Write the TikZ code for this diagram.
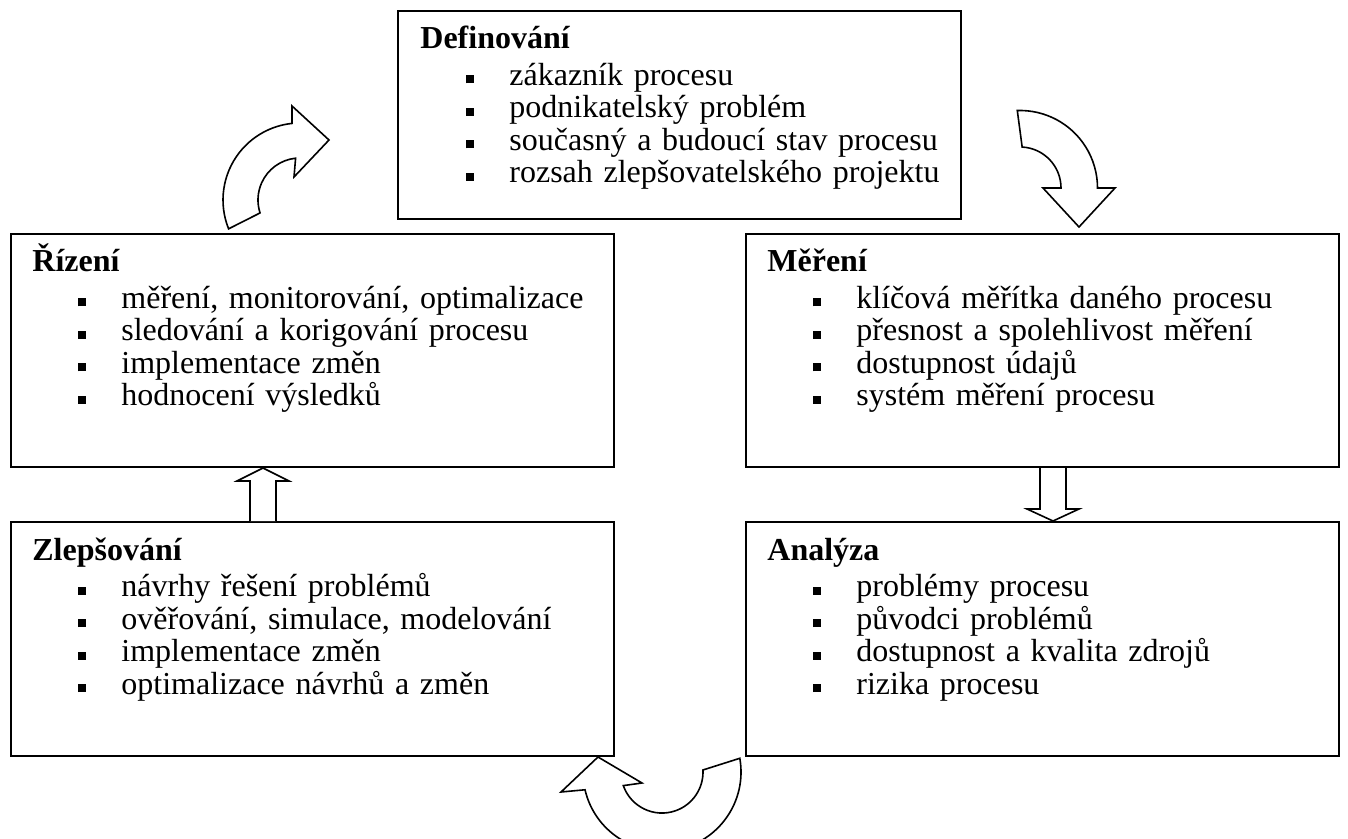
\documentclass[tikz,border=0pt]{standalone}
\usepackage{fontspec}
\setmainfont{Liberation Serif}
\usetikzlibrary{positioning,calc}

\newcommand\pbul{\hspace*{23pt}\raisebox{1pt}{\rule{4pt}{4pt}}\hspace*{17.5pt}}

\begin{document}
\begin{tikzpicture}[x=0.5pt,y=-0.5pt,
  phase/.style={draw=black,line width=1pt,fill=white,rectangle,anchor=north west,inner sep=0pt,minimum width=301.5pt,minimum height=116.5pt},
  phasetext/.style={anchor=base west,inner sep=0pt,text width=320pt,align=left,font=\fontsize{16}{16.25}\selectfont},
  blockarrow/.style={draw=black,line width=0.8pt,fill=white,line join=miter}]
\useasboundingbox (0,0) rectangle (1348,839);
\clip (0,0) rectangle (1348,839);
% phase boxes
\node[phase,minimum width=281.5pt,minimum height=104pt] (defin) at (397,10) {};
\node[phase] (rizeni) at (10,233) {};
\node[phase,minimum width=296.5pt] (mereni) at (745,233) {};
\node[phase,minimum height=117pt] (zlep) at (10,521) {};
\node[phase,minimum width=296.5pt,minimum height=117pt] (analyza) at (745,521) {};
% phase texts
\node[phasetext] (definT) at ($(defin.north west)+(23,39)$) {\textbf{Definování}\\[2pt]
  \pbul zákazník procesu\\
  \pbul podnikatelský problém\\
  \pbul současný a budoucí stav procesu\\
  \pbul rozsah zlepšovatelského projektu};
\node[phasetext] (rizeniT) at ($(rizeni.north west)+(22,39)$) {\textbf{Řízení}\\[2pt]
  \pbul měření, monitorování, optimalizace\\
  \pbul sledování a korigování procesu\\
  \pbul implementace změn\\
  \pbul hodnocení výsledků};
\node[phasetext] (mereniT) at ($(mereni.north west)+(22,39)$) {\textbf{Měření}\\[2pt]
  \pbul klíčová měřítka daného procesu\\
  \pbul přesnost a spolehlivost měření\\
  \pbul dostupnost údajů\\
  \pbul systém měření procesu};
\node[phasetext] (zlepT) at ($(zlep.north west)+(22,39)$) {\textbf{Zlepšování}\\[2pt]
  \pbul návrhy řešení problémů\\
  \pbul ověřování, simulace, modelování\\
  \pbul implementace změn\\
  \pbul optimalizace návrhů a změn};
\node[phasetext] (analyzaT) at ($(analyza.north west)+(22,39)$) {\textbf{Analýza}\\[2pt]
  \pbul problémy procesu\\
  \pbul původci problémů\\
  \pbul dostupnost a kvalita zdrojů\\
  \pbul rizika procesu};
% straight block arrows
\coordinate (upfoot) at ($(zlep.north west)+(253,0)$);
\draw[blockarrow] ($(upfoot)+(-13,0)$) -- ++(0,-40) -- ++(-13,0) -- (upfoot |- rizeni.south)
  -- ($(upfoot)+(26,-40)$) -- ++(-13,0) -- ($(upfoot)+(13,0)$);
\coordinate (downtop) at ($(mereni.south west)+(308,0)$);
\draw[blockarrow] ($(downtop)+(-13,0)$) -- ++(0,41) -- ++(-13,0) -- (downtop |- analyza.north)
  -- ($(downtop)+(26,41)$) -- ++(-13,0) -- ($(downtop)+(13,0)$);
% curved block arrows
\draw[blockarrow] (300,200) ++(158:77) arc[start angle=158,end angle=264,radius=77]
  -- (292,106) -- (329,140) -- (294,177) -- (295.6,158.2)
  arc[start angle=264,end angle=162,radius=42] -- cycle;
\draw[blockarrow] (1020,188) ++(268:77.5) arc[start angle=268,end angle=360,radius=77.5]
  -- (1115,188) -- (1079,227) -- (1043,188) -- (1061,188)
  arc[start angle=360,end angle=273,radius=41] -- cycle;
\draw[blockarrow] (662,772) ++(-10:79) arc[start angle=-10,end angle=167,radius=79]
  -- (561,792) -- (598,757) -- (642,783) -- (623.3,785.6)
  arc[start angle=160.7,end angle=-2.9,radius=41] -- cycle;
\end{tikzpicture}
\end{document}
